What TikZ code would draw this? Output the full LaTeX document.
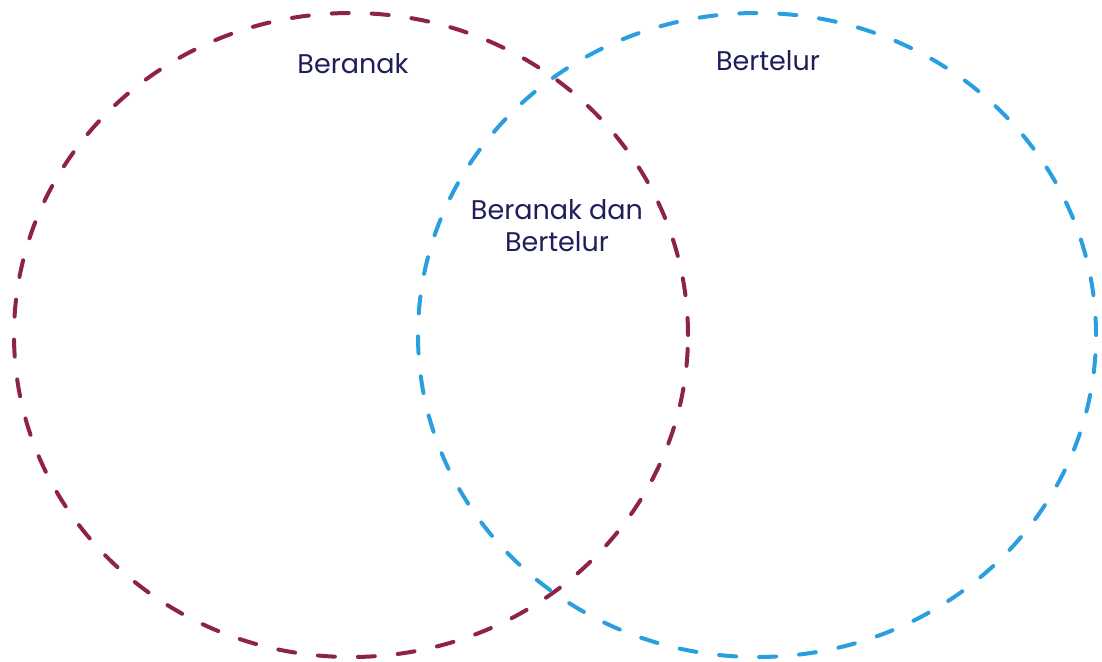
\documentclass[tikz,border=0pt]{standalone}
\usepackage{fontspec}
\setmainfont{Poppins}
\usetikzlibrary{shapes.geometric}
\begin{document}
\begin{tikzpicture}[x=0.5pt,y=-0.5pt,
  lbl/.style={text=labelc,font=\fontsize{13.5}{16}\selectfont,align=center,inner sep=0pt},
  ring/.style={line width=2pt,dash pattern=on 8.5pt off 11.5pt,line cap=round}]
\definecolor{labelc}{HTML}{1E1E5C}
\definecolor{redc}{HTML}{8E2345}
\definecolor{bluec}{HTML}{2A9FE0}
\useasboundingbox (0,0) rectangle (1102,661);
\fill[white] (0,0) rectangle (1102,661);
\node[draw=redc,ring,ellipse,minimum width=337pt,minimum height=322pt,inner sep=0pt] (L) at (351,335) {};
\node[draw=bluec,ring,ellipse,minimum width=339pt,minimum height=322pt,inner sep=0pt] (R) at (757,335) {};
\node[lbl] (tl) at (353,64) {Beranak};
\node[lbl] (tr) at (768,61) {Bertelur};
\node[lbl] (tm) at (557,226) {Beranak dan\\Bertelur};
\end{tikzpicture}
\end{document}
